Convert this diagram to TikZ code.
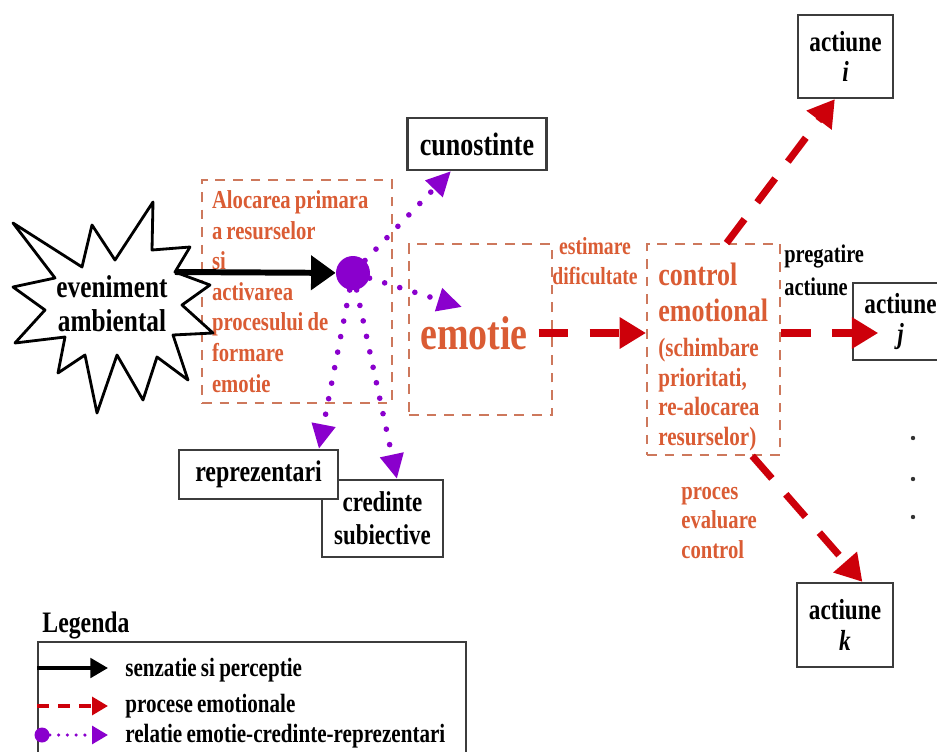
\documentclass[tikz,border=0pt]{standalone}
\usepackage{fontspec}
\setmainfont{Liberation Serif}[FakeStretch=0.8,WordSpace=0.8]
\usepackage{tikz}
\usetikzlibrary{arrows.meta}
\definecolor{txtor}{RGB}{218,92,52}
\definecolor{dashor}{RGB}{205,120,92}
\definecolor{emored}{RGB}{205,0,10}
\definecolor{relviol}{RGB}{138,0,205}
\definecolor{boxgray}{RGB}{60,60,60}
\newcommand{\fsz}[2]{\fontsize{#1}{#2}\selectfont\bfseries}
\tikzstyle{actbox} = [rectangle, draw=boxgray, line width=1.3pt, fill=white, align=center, inner sep=2pt]
\tikzstyle{procbox} = [rectangle, draw=dashor, line width=1.1pt, dash pattern=on 5.5pt off 4.5pt]
\tikzstyle{ortxt} = [text=txtor, align=left, inner sep=0pt]
\tikzstyle{senzarr} = [draw=black, line width=3.4pt, -{Triangle[length=14pt,width=19pt]}]
\tikzstyle{emoarr} = [draw=emored, line width=4pt, dash pattern=on 17pt off 12pt, -{Triangle[length=15pt,width=17pt]}]
\tikzstyle{relarr} = [draw=relviol, line width=3.2pt, line cap=round, dash pattern=on 0pt off 9pt, -{Triangle[length=14pt,width=13pt]}]
\begin{document}
\begin{tikzpicture}[x=0.02cm,y=-0.02cm]
  \useasboundingbox (0,0) rectangle (937,751);
  % dashed process boxes
  \node[procbox, ortxt, align=flush left, text width=3.4cm, inner xsep=0.2cm, minimum height=4.46cm, font=\fsz{14.7}{17.4}] (aloc) at (297,291.5) {Alocarea primara\\ a resurselor\\ si\\ activarea\\ procesului de\\ formare\\ emotie};
  \node[procbox, minimum width=2.86cm, minimum height=3.42cm] (emobox) at (480.5,329.5) {};
  \node[procbox, minimum width=2.66cm, minimum height=4.22cm] (ctrl) at (713.5,349.5) {};
  \node[ortxt, font=\fsz{27}{30}] (emotxt) at (474,333) {emotie};
  \node[ortxt, align=flush left, text width=2.4cm, anchor=west, font=\bfseries] (ctrltxt) at (658,357) {\fontsize{18.5}{20.5}\selectfont control\\ emotional\par\vspace{3pt}\fontsize{15}{17}\selectfont (schimbare\\ prioritati,\\ re-alocarea\\ resurselor)\par};
  \node[ortxt, align=center, font=\fsz{14}{17}] (estim) at (595,261) {estimare\\ dificultate};
  \node[ortxt, anchor=west, font=\fsz{14.7}{17}] (proces) at (681,523) {proces\\ evaluare\\ control};

  % starburst
  \draw[line width=1.6pt, line join=round, fill=white] (13,223) -- (82,267) -- (92,225) -- (115,260) -- (153,202) -- (152,250) -- (190,247) -- (175,272) -- (210,285) -- (182,305) -- (213,333) -- (173,335) -- (188,380) -- (157,357) -- (143,400) -- (117,355) -- (97,413) -- (85,355) -- (58,373) -- (65,337) -- (15,343) -- (45,310) -- (13,287) -- (55,278) -- cycle;
  \node[align=center, font=\fsz{18}{19.5}, inner sep=0pt] (event) at (112,304) {eveniment\\ ambiental};
  \coordinate (evout) at (175,272);

  \node[circle, fill=relviol, minimum size=0.68cm, inner sep=0pt] (nod) at (353,273) {};
  \coordinate (emoin) at (462,307);

  \node[actbox, minimum width=2.78cm, minimum height=1.04cm, font=\fsz{18.5}{20}] (cuno) at (477,144) {cunostinte};
  \node[actbox, minimum width=2.42cm, minimum height=1.54cm, font=\fsz{16.3}{18.8}] (cred) at (382.5,518.5) {credinte\\ subiective};
  \node[actbox, minimum width=3.18cm, minimum height=0.98cm, font=\fsz{17}{19}] (repr) at (258.5,474.5) {reprezentari};
  \node[actbox, minimum width=1.9cm, minimum height=1.66cm, font=\fsz{16.5}{17.5}] (acti) at (845.5,56.5) {actiune\\ \textit{i}};
  \node[actbox, minimum width=1.9cm, minimum height=1.54cm, font=\fsz{16.5}{17.5}] (actj) at (900.5,321.5) {actiune\\ \textit{j}};
  \node[actbox, minimum width=1.92cm, minimum height=1.68cm, font=\fsz{16.5}{18}] (actk) at (845,625) {actiune\\ \textit{k}};
  \node[align=left, anchor=west, inner sep=0pt, font=\fsz{14.5}{18.8}] (pregat) at (784,270) {pregatire\\ actiune};
  \foreach \y [count=\i] in {438,479,517}
    \node[circle, fill=black!80, inner sep=0pt, minimum size=2.5pt] (dot\i) at (913,\y) {};

  \path (evout) edge[senzarr] (nod);
  \path (nod) edge[relarr] (cuno);
  \path (nod) edge[relarr] (emoin);
  \path (nod) edge[relarr] (repr.23);
  \path (nod) edge[relarr] (cred.70);
  \path (emotxt.east) edge[emoarr, shorten <=6pt] (emotxt.east -| ctrl.west);
  \path (emotxt.east -| ctrl.east) edge[emoarr, shorten >=-15pt] (emotxt.east -| actj.west);
  \path (ctrl.83) edge[emoarr] (acti.256);
  \path (ctrl.290) edge[emoarr] (actk.68);

  % legend
  \node[inner sep=0pt, font=\fsz{16.9}{19}] (leg) at (86,625) {Legenda};
  \node[draw=boxgray, line width=1.2pt, minimum width=8.56cm, minimum height=2.6cm, anchor=north west, inner sep=0pt] (legbox) at (37,641) {};
  \coordinate (l1) at (37,668);
  \coordinate (l1e) at (108,668);
  \coordinate (l2) at (37,706);
  \coordinate (l2e) at (108,706);
  \node[circle, fill=relviol, minimum size=0.3cm, inner sep=0pt] (lnod) at (42,735) {};
  \coordinate (l3e) at (108,735);
  \path (l1) edge[senzarr, line width=2.2pt, -{Triangle[length=10pt,width=11pt]}] (l1e);
  \path (l2) edge[emoarr, line width=2.2pt, dash pattern=on 7pt off 5pt, -{Triangle[length=9pt,width=10pt]}] (l2e);
  \path (lnod) edge[relarr, line width=2pt, dash pattern=on 0pt off 5pt, -{Triangle[length=9pt,width=10pt]}] (l3e);
  \node[anchor=west, inner sep=0pt, font=\fsz{15}{17}] (leg1) at (125,670) {senzatie si perceptie};
  \node[anchor=west, inner sep=0pt, font=\fsz{15}{17}] (leg2) at (125,706) {procese emotionale};
  \node[anchor=west, inner sep=0pt, font=\fsz{15}{17}] (leg3) at (125,736) {relatie emotie-credinte-reprezentari};
\end{tikzpicture}
\end{document}
